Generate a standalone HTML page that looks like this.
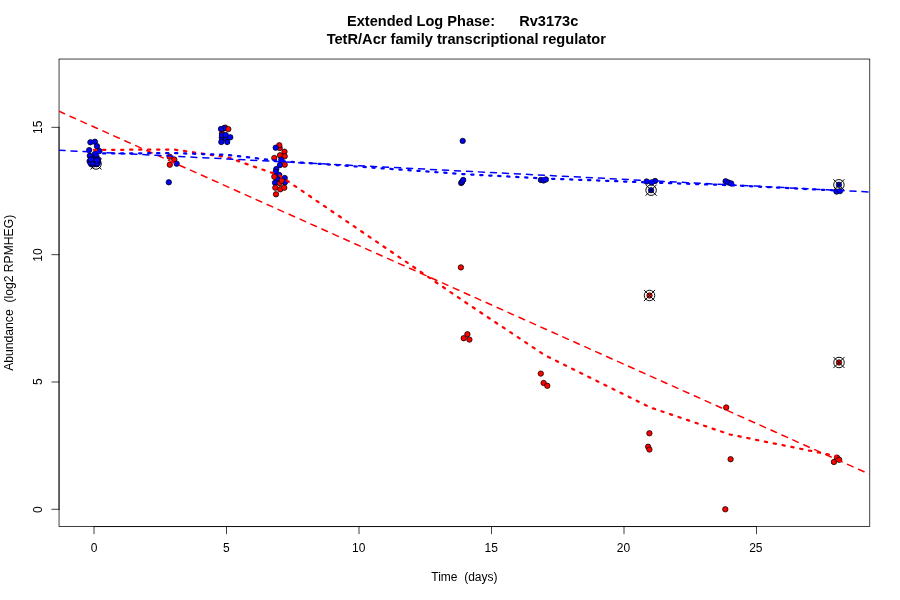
<!DOCTYPE html>
<html><head><meta charset="utf-8"><title>Extended Log Phase: Rv3173c</title>
<style>
html,body{margin:0;padding:0;background:#fff;}
svg{display:block;}
text{font-family:"Liberation Sans",sans-serif;fill:#000;white-space:pre;}
</style></head><body>
<svg width="900" height="600" viewBox="0 0 900 600">
<rect width="900" height="600" fill="#fff"/>

<g fill="none" stroke="#000" stroke-width="0.75" stroke-linecap="round">
<rect x="59.04" y="59.04" width="810.72" height="467.52"/>
<path d="M94.00 526.56L756.50 526.56"/>
<path d="M94.00 526.56L94.00 533.76"/>
<path d="M226.50 526.56L226.50 533.76"/>
<path d="M359.00 526.56L359.00 533.76"/>
<path d="M491.50 526.56L491.50 533.76"/>
<path d="M624.00 526.56L624.00 533.76"/>
<path d="M756.50 526.56L756.50 533.76"/>
<path d="M59.04 509.30L59.04 127.34"/>
<path d="M59.04 509.30L51.84 509.30"/>
<path d="M59.04 381.98L51.84 381.98"/>
<path d="M59.04 254.66L51.84 254.66"/>
<path d="M59.04 127.34L51.84 127.34"/>
</g>
<circle cx="96.0" cy="164.0" r="2.7" fill="#0000ff" stroke="#000" stroke-width="0.75"/>
<g stroke="#000" stroke-width="0.95" fill="none"><circle cx="96.0" cy="164.0" r="5.25"/><path stroke-linecap="round" d="M90.7 158.7L101.3 169.3M90.7 169.3L101.3 158.7"/></g>
<circle cx="651.1" cy="190.2" r="2.7" fill="#0000ff" stroke="#000" stroke-width="0.75"/>
<g stroke="#000" stroke-width="0.95" fill="none"><circle cx="651.1" cy="190.2" r="5.25"/><path stroke-linecap="round" d="M645.8 184.9L656.4 195.5M645.8 195.5L656.4 184.9"/></g>
<circle cx="649.5" cy="295.5" r="2.7" fill="#ff0000" stroke="#000" stroke-width="0.75"/>
<g stroke="#000" stroke-width="0.95" fill="none"><circle cx="649.5" cy="295.5" r="5.25"/><path stroke-linecap="round" d="M644.2 290.2L654.8 300.8M644.2 300.8L654.8 290.2"/></g>
<circle cx="838.9" cy="184.8" r="2.7" fill="#0000ff" stroke="#000" stroke-width="0.75"/>
<g stroke="#000" stroke-width="0.95" fill="none"><circle cx="838.9" cy="184.8" r="5.25"/><path stroke-linecap="round" d="M833.6 179.5L844.2 190.1M833.6 190.1L844.2 179.5"/></g>
<circle cx="839.0" cy="362.5" r="2.7" fill="#ff0000" stroke="#000" stroke-width="0.75"/>
<g stroke="#000" stroke-width="0.95" fill="none"><circle cx="839.0" cy="362.5" r="5.25"/><path stroke-linecap="round" d="M833.7 357.2L844.3 367.8M833.7 367.8L844.3 357.2"/></g>
<g stroke="#000" stroke-width="0.75">
<circle cx="90.4" cy="142.3" r="2.7" fill="#0000ff"/>
<circle cx="94.9" cy="141.7" r="2.7" fill="#0000ff"/>
<circle cx="97.0" cy="146.2" r="2.7" fill="#0000ff"/>
<circle cx="89.2" cy="150.1" r="2.7" fill="#0000ff"/>
<circle cx="99.4" cy="151.0" r="2.7" fill="#0000ff"/>
<circle cx="94.9" cy="154.0" r="2.7" fill="#0000ff"/>
<circle cx="89.8" cy="155.8" r="2.7" fill="#0000ff"/>
<circle cx="96.4" cy="156.4" r="2.7" fill="#0000ff"/>
<circle cx="89.6" cy="161.2" r="2.7" fill="#0000ff"/>
<circle cx="91.9" cy="162.4" r="2.7" fill="#0000ff"/>
<circle cx="94.0" cy="160.6" r="2.7" fill="#0000ff"/>
<circle cx="96.4" cy="161.8" r="2.7" fill="#0000ff"/>
<circle cx="98.2" cy="161.7" r="2.7" fill="#0000ff"/>
<circle cx="91.3" cy="164.2" r="2.7" fill="#0000ff"/>
<circle cx="93.8" cy="164.4" r="2.7" fill="#0000ff"/>
<circle cx="96.4" cy="164.2" r="2.7" fill="#0000ff"/>
<circle cx="92.8" cy="158.8" r="2.7" fill="#0000ff"/>
<circle cx="98.2" cy="159.4" r="2.7" fill="#0000ff"/>
<circle cx="90.5" cy="163.0" r="2.7" fill="#0000ff"/>
<circle cx="95.2" cy="163.0" r="2.7" fill="#0000ff"/>
<circle cx="93.0" cy="163.3" r="2.7" fill="#0000ff"/>
<circle cx="97.6" cy="163.4" r="2.7" fill="#0000ff"/>
<circle cx="95.0" cy="159.8" r="2.7" fill="#0000ff"/>
<circle cx="90.8" cy="159.5" r="2.7" fill="#0000ff"/>
<circle cx="97.0" cy="160.5" r="2.7" fill="#0000ff"/>
<circle cx="169.6" cy="156.7" r="2.7" fill="#ff0000"/>
<circle cx="174.3" cy="159.5" r="2.7" fill="#ff0000"/>
<circle cx="169.8" cy="164.7" r="2.7" fill="#ff0000"/>
<circle cx="176.7" cy="163.7" r="2.7" fill="#0000ff"/>
<circle cx="168.8" cy="182.3" r="2.7" fill="#0000ff"/>
<circle cx="225.2" cy="127.6" r="2.7" fill="#ff0000"/>
<circle cx="222.0" cy="133.5" r="2.7" fill="#ff0000"/>
<circle cx="224.0" cy="128.2" r="2.7" fill="#0000ff"/>
<circle cx="221.0" cy="129.0" r="2.7" fill="#0000ff"/>
<circle cx="228.3" cy="129.1" r="2.7" fill="#ff0000"/>
<circle cx="221.8" cy="137.7" r="2.7" fill="#0000ff"/>
<circle cx="222.0" cy="135.3" r="2.7" fill="#0000ff"/>
<circle cx="226.0" cy="138.5" r="2.7" fill="#0000ff"/>
<circle cx="225.7" cy="135.0" r="2.7" fill="#0000ff"/>
<circle cx="230.3" cy="137.3" r="2.7" fill="#0000ff"/>
<circle cx="221.3" cy="142.0" r="2.7" fill="#0000ff"/>
<circle cx="227.2" cy="142.0" r="2.7" fill="#0000ff"/>
<circle cx="279.7" cy="148.0" r="2.7" fill="#ff0000"/>
<circle cx="279.3" cy="145.3" r="2.7" fill="#ff0000"/>
<circle cx="275.7" cy="147.7" r="2.7" fill="#0000ff"/>
<circle cx="284.5" cy="151.7" r="2.7" fill="#ff0000"/>
<circle cx="280.0" cy="155.3" r="2.7" fill="#ff0000"/>
<circle cx="284.7" cy="156.3" r="2.7" fill="#ff0000"/>
<circle cx="274.3" cy="158.0" r="2.7" fill="#ff0000"/>
<circle cx="281.3" cy="159.7" r="2.7" fill="#0000ff"/>
<circle cx="284.7" cy="164.7" r="2.7" fill="#ff0000"/>
<circle cx="280.0" cy="165.0" r="2.7" fill="#0000ff"/>
<circle cx="276.3" cy="169.0" r="2.7" fill="#0000ff"/>
<circle cx="275.7" cy="171.7" r="2.7" fill="#0000ff"/>
<circle cx="279.3" cy="175.0" r="2.7" fill="#0000ff"/>
<circle cx="277.3" cy="179.0" r="2.7" fill="#0000ff"/>
<circle cx="274.3" cy="176.7" r="2.7" fill="#ff0000"/>
<circle cx="284.7" cy="178.0" r="2.7" fill="#0000ff"/>
<circle cx="275.0" cy="182.7" r="2.7" fill="#0000ff"/>
<circle cx="285.0" cy="182.3" r="2.7" fill="#0000ff"/>
<circle cx="279.7" cy="183.3" r="2.7" fill="#ff0000"/>
<circle cx="281.7" cy="180.7" r="2.7" fill="#ff0000"/>
<circle cx="275.3" cy="187.7" r="2.7" fill="#ff0000"/>
<circle cx="280.3" cy="189.3" r="2.7" fill="#ff0000"/>
<circle cx="284.3" cy="187.7" r="2.7" fill="#ff0000"/>
<circle cx="276.0" cy="194.3" r="2.7" fill="#ff0000"/>
<circle cx="462.7" cy="140.9" r="2.7" fill="#0000ff"/>
<circle cx="461.2" cy="183.0" r="2.7" fill="#0000ff"/>
<circle cx="462.0" cy="182.0" r="2.7" fill="#0000ff"/>
<circle cx="463.2" cy="180.0" r="2.7" fill="#0000ff"/>
<circle cx="460.9" cy="267.4" r="2.7" fill="#ff0000"/>
<circle cx="463.7" cy="338.2" r="2.7" fill="#ff0000"/>
<circle cx="469.4" cy="339.6" r="2.7" fill="#ff0000"/>
<circle cx="467.4" cy="334.2" r="2.7" fill="#ff0000"/>
<circle cx="540.9" cy="180.0" r="2.7" fill="#0000ff"/>
<circle cx="543.5" cy="180.5" r="2.7" fill="#0000ff"/>
<circle cx="545.9" cy="179.5" r="2.7" fill="#0000ff"/>
<circle cx="540.8" cy="373.6" r="2.7" fill="#ff0000"/>
<circle cx="543.6" cy="383.0" r="2.7" fill="#ff0000"/>
<circle cx="547.3" cy="385.8" r="2.7" fill="#ff0000"/>
<circle cx="646.6" cy="181.5" r="2.7" fill="#0000ff"/>
<circle cx="655.1" cy="181.0" r="2.7" fill="#0000ff"/>
<circle cx="651.6" cy="182.4" r="2.7" fill="#0000ff"/>
<circle cx="649.4" cy="433.3" r="2.7" fill="#ff0000"/>
<circle cx="648.1" cy="446.7" r="2.7" fill="#ff0000"/>
<circle cx="649.4" cy="449.5" r="2.7" fill="#ff0000"/>
<circle cx="725.6" cy="181.3" r="2.7" fill="#0000ff"/>
<circle cx="728.5" cy="182.5" r="2.7" fill="#0000ff"/>
<circle cx="731.2" cy="183.5" r="2.7" fill="#0000ff"/>
<circle cx="726.2" cy="407.5" r="2.7" fill="#ff0000"/>
<circle cx="730.6" cy="459.2" r="2.7" fill="#ff0000"/>
<circle cx="725.3" cy="509.3" r="2.7" fill="#ff0000"/>
<circle cx="836.5" cy="191.6" r="2.7" fill="#0000ff"/>
<circle cx="840.0" cy="191.1" r="2.7" fill="#0000ff"/>
<circle cx="837.0" cy="457.6" r="2.7" fill="#ff0000"/>
<circle cx="833.9" cy="462.0" r="2.7" fill="#ff0000"/>
<circle cx="839.2" cy="459.8" r="2.7" fill="#ff0000"/>
</g>
<clipPath id="pc"><rect x="59.04" y="59.04" width="810.72" height="467.52"/></clipPath>
<g fill="none" stroke-linecap="round" stroke-linejoin="round" clip-path="url(#pc)">
<polyline points="94.10,149.90 173.50,149.50 226.50,157.00 279.50,175.50 465.00,302.00 544.50,355.00 650.50,407.50 730.00,434.50 836.00,456.00" stroke="#ff0000" stroke-width="2.25" stroke-dasharray="2.25 6.75"/>
<polyline points="59.04,111.30 869.76,474.30" stroke="#ff0000" stroke-width="1.5" stroke-dasharray="6 6"/>
<polyline points="94.10,153.50 173.50,153.10 226.50,154.80 279.50,161.00 465.00,174.20 544.50,178.50 650.50,182.50 730.00,185.20 836.00,190.50" stroke="#0000ff" stroke-width="2.25" stroke-dasharray="2.25 6.75"/>
<polyline points="59.04,150.30 869.76,192.00" stroke="#0000ff" stroke-width="1.5" stroke-dasharray="6 6"/>
</g>
<g font-size="12" text-anchor="middle">
<text x="94.10" y="551.5">0</text>
<text x="226.45" y="551.5">5</text>
<text x="358.80" y="551.5">10</text>
<text x="491.15" y="551.5">15</text>
<text x="623.50" y="551.5">20</text>
<text x="755.85" y="551.5">25</text>
<text transform="translate(42 509.60) rotate(-90)">0</text>
<text transform="translate(42 381.68) rotate(-90)">5</text>
<text transform="translate(42 255.06) rotate(-90)">10</text>
<text transform="translate(42 127.34) rotate(-90)">15</text>
<text x="464.4" y="580.8" xml:space="preserve">Time  (days)</text>
<text transform="translate(12.7 292.8) rotate(-90)" font-size="12.16" xml:space="preserve">Abundance  (log2 RPMHEG)</text>
</g>
<g font-size="14.56" font-weight="bold" text-anchor="middle">
<text x="462.7" y="25.8" xml:space="preserve">Extended Log Phase:      Rv3173c</text>
<text x="466.3" y="43.6" font-size="14.63" xml:space="preserve">TetR/Acr family transcriptional regulator</text>
</g>
</svg></body></html>
